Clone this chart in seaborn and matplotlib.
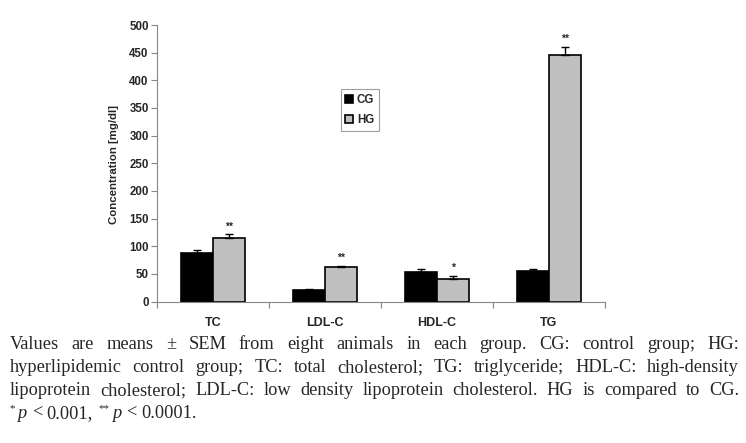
import numpy as np
import pandas as pd
import seaborn as sns
import matplotlib
matplotlib.use("Agg")
import matplotlib.pyplot as plt

# data
categories = ["TC", "LDL-C", "HDL-C", "TG"]
groups = ["CG", "HG"]
cg_mean = [87, 21, 54, 56]
hg_mean = [115, 63, 40, 445]
cg_sem = [7, 1.5, 5, 3.5]
hg_sem = [6.5, 1.5, 7, 15]
hg_sig = ["**", "**", "*", "**"]

yticks = list(range(0, 501, 50))

caption_lines = [
    "Values are means \u00b1 SEM from eight animals in each group. CG: control group; HG:",
    "hyperlipidemic control group; TC: total cholesterol; TG: triglyceride; HDL-C: high-density",
    "lipoprotein cholesterol; LDL-C: low density lipoprotein cholesterol. HG is compared to CG.",
]

sns.set_style("white")
plt.rcParams["font.family"] = ["Liberation Sans", "DejaVu Sans"]

df = pd.DataFrame({
    "lipid": categories * 2,
    "group": ["CG"] * len(categories) + ["HG"] * len(categories),
    "conc": cg_mean + hg_mean,
})

W, H = 746, 443
fig = plt.figure(figsize=(W / 100, H / 100), dpi=100)
ax = fig.add_axes([157 / W, 1 - 301.5 / H, 448 / W, 276.5 / H])

sns.barplot(data=df, x="lipid", y="conc", hue="group", order=categories,
            hue_order=groups, palette={"CG": "black", "HG": "#c0c0c0"},
            edgecolor="black", linewidth=1.2, width=0.57, gap=0,
            errorbar=None, saturation=1, ax=ax)

# one-sided error bars + significance marks
for cont, sems, sig in zip(ax.containers, [cg_sem, hg_sem], [None, hg_sig]):
    xs = [p.get_x() + p.get_width() / 2 for p in cont.patches]
    hs = [p.get_height() for p in cont.patches]
    ax.errorbar(xs, hs, yerr=[np.zeros(len(sems)), sems], fmt="none",
                ecolor="black", elinewidth=1, capsize=3, capthick=1)
    if sig is not None:
        for x, h, e, s in zip(xs, hs, sems, sig):
            ax.annotate(s, (x, h + e), xytext=(0, 2), textcoords="offset points",
                        ha="center", va="bottom", fontsize=7.5, fontweight="bold")

gray = "#868686"
ax.set_ylim(0, 500)
ax.set_yticks(yticks)
ax.set_yticklabels([str(v) for v in yticks], fontsize=8.3, fontweight="bold")
ax.set_xlim(-0.5, len(categories) - 0.5)
ax.set_xticks(np.arange(-0.5, len(categories), 1))
ax.set_xticklabels([])
ax.set_xticks(range(len(categories)), minor=True)
ax.set_xticklabels(categories, minor=True, fontsize=9, fontweight="bold")
ax.tick_params(axis="x", which="major", direction="out", length=4, width=0.8,
               color=gray, bottom=True)
ax.tick_params(axis="x", which="minor", length=0, pad=11)
ax.tick_params(axis="y", direction="out", length=4, width=0.8, color=gray,
               pad=2, left=True)
ax.set_xlabel("")
ax.set_ylabel("Concentration [mg/dl]", fontsize=8.2, fontweight="bold")
ax.yaxis.set_label_coords(-0.085, 0.494)
sns.despine(ax=ax)
for sp in ["left", "bottom"]:
    ax.spines[sp].set_color(gray)
    ax.spines[sp].set_linewidth(0.8)

leg = ax.legend(loc="upper left", bbox_to_anchor=(0.41, 0.768), frameon=True,
                fancybox=False, edgecolor=gray, borderaxespad=0,
                prop={"weight": "bold", "size": 8.3}, handlelength=0.7,
                handleheight=0.7, handletextpad=0.3, labelspacing=0.75,
                borderpad=0.4, title=None)
leg.get_frame().set_linewidth(0.8)

# caption, justified
renderer = fig.canvas.get_renderer()
cap_kw = dict(family="Liberation Serif", fontsize=13.2)
left, right = 10, 739
baselines = [349, 372, 395, 418]


def text_w(s, **kw):
    t = fig.text(0, 0, s, **kw)
    w = t.get_window_extent(renderer).width
    t.remove()
    return w


for line, yb in zip(caption_lines, baselines):
    words = line.split()
    widths = [text_w(w, **cap_kw) for w in words]
    gap = (right - left - sum(widths)) / (len(words) - 1)
    x = left
    for w, wd in zip(words, widths):
        fig.text(x / W, 1 - yb / H, w, ha="left", va="baseline", **cap_kw)
        x += wd + gap

# last line: "* p < 0.001, ** p < 0.0001."
pieces = [("*", "sup", 3), ("p", "it", 5), ("<", "n", 4), ("0.001,", "n", 6),
          ("**", "sup", 3), ("p", "it", 5), ("<", "n", 4), ("0.0001.", "n", 0)]
x = 9
yb = baselines[3]
for s, kind, after in pieces:
    kw = dict(cap_kw)
    y = yb
    if kind == "sup":
        kw["fontsize"] = cap_kw["fontsize"] * 0.6
        y = yb - 7
    elif kind == "it":
        kw["style"] = "italic"
    fig.text(x / W, 1 - y / H, s, ha="left", va="baseline", **kw)
    x += text_w(s, **kw) + after

fig.savefig("out.png", dpi=100)
